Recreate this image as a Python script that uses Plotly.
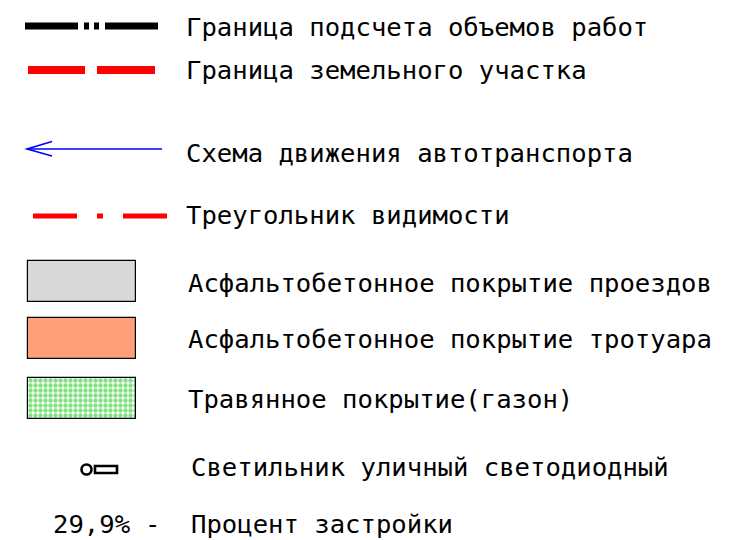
import plotly.graph_objects as go

# Legend content
line_labels = [
    "Граница подсчета объемов работ",
    "Граница земельного участка",
    "Схема движения автотранспорта",
    "Треугольник видимости",
]
area_labels = [
    "Асфальтобетонное покрытие проездов",
    "Асфальтобетонное покрытие тротуара",
    "Травянное покрытие(газон)",
]
area_colors = ["#d9d9d9", "#ffa07a", "#ffffff"]
lamp_label = "Светильник уличный светодиодный"
percent_value = "29,9%"
percent_label = "Процент застройки"

FONT = dict(family="DejaVu Sans Mono, monospace", size=25.6, color="#000000")

# layout positions (pixels)
line_rows_y = [27, 70, 153, 215]
area_rows_y = [281.5, 338, 398]
lamp_y = 466
pct_y = 524

fig = go.Figure()

# area swatches as horizontal bars
patterns = [dict(shape=""), dict(shape=""),
            dict(shape=".", fgcolor="#00c400", bgcolor="#ffffff", size=5, solidity=0.6)]
for yv, col, pat in zip(area_rows_y, area_colors, patterns):
    fig.add_trace(go.Bar(
        orientation="h", y=[yv], x=[108], base=[28], width=41,
        marker=dict(color=col, line=dict(color="#000000", width=1.2), pattern=pat),
        showlegend=False, hoverinfo="skip",
    ))

shapes = []
# black dash-dot-dot boundary
shapes.append(dict(type="line", x0=25, x1=158, y0=line_rows_y[0] - 1, y1=line_rows_y[0] - 1,
                   line=dict(color="#000000", width=7, dash="53px,6px,5px,5px,5px,6px,53px")))
# red dashed boundary
shapes.append(dict(type="line", x0=28, x1=155, y0=line_rows_y[1], y1=line_rows_y[1],
                   line=dict(color="#ff0000", width=8, dash="57px,12px,58px")))
# blue arrow
ya = line_rows_y[2] - 4
shapes.append(dict(type="line", x0=27, x1=162, y0=ya, y1=ya,
                   line=dict(color="#0000ff", width=1.6)))
shapes.append(dict(type="path", path=f"M 52,{ya-7.5} L 27,{ya} L 52,{ya+7}",
                   line=dict(color="#0000ff", width=1.6)))
# red dash-dot
shapes.append(dict(type="line", x0=33, x1=167, y0=line_rows_y[3] + 1, y1=line_rows_y[3] + 1,
                   line=dict(color="#ff0000", width=5, dash="44px,20px,6px,20px,44px")))
# lamp symbol
shapes.append(dict(type="circle", x0=81.5, x1=91.5, y0=lamp_y - 1.5, y1=lamp_y + 8.5,
                   line=dict(color="#000000", width=2.6)))
shapes.append(dict(type="rect", x0=95, x1=117, y0=lamp_y, y1=lamp_y + 7,
                   line=dict(color="#000000", width=2.6)))
for s in shapes:
    s.update(xref="x", yref="y", layer="above")

annotations = []
for lab, yv in zip(line_labels, line_rows_y):
    annotations.append(dict(x=184, y=yv, text=lab))
for lab, yv in zip(area_labels, area_rows_y):
    annotations.append(dict(x=186, y=yv + 1, text=lab))
annotations.append(dict(x=189, y=lamp_y + 1, text=lamp_label))
annotations.append(dict(x=189, y=pct_y, text=percent_label))
annotations.append(dict(x=51, y=pct_y, text=percent_value))
annotations.append(dict(x=143, y=pct_y, text="-"))
for a in annotations:
    a.update(xref="x", yref="y", xanchor="left", yanchor="middle", showarrow=False, font=FONT)

# page body has an 8px margin: offset axis ranges so data units equal screen pixels
OFF = 8
fig.update_layout(
    width=735, height=540,
    margin=dict(l=0, r=0, t=0, b=0),
    paper_bgcolor="#ffffff", plot_bgcolor="#ffffff",
    xaxis=dict(range=[OFF, 735 + OFF], visible=False, fixedrange=True),
    yaxis=dict(range=[540 + OFF, OFF], visible=False, fixedrange=True),
    shapes=shapes, annotations=annotations,
    bargap=0, showlegend=False,
)

fig.write_html("out.html")
